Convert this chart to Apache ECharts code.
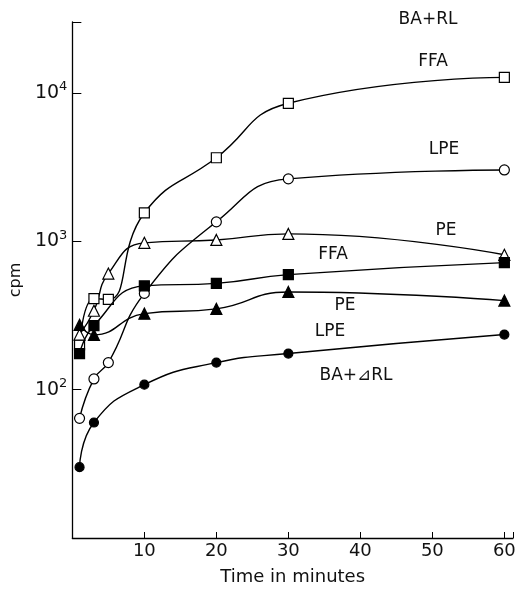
<!DOCTYPE html>
<html>
<head>
<meta charset="utf-8">
<script src="https://cdn.jsdelivr.net/npm/echarts@6/dist/echarts.min.js"></script>
<style>
  html, body { margin: 0; padding: 0; background: #fff; }
  #chart { width: 530px; height: 593px; }
</style>
</head>
<body>
<div id="chart"></div>
<script>
// time points (minutes)
const minutesOpen = [1, 3, 5, 10, 20, 30, 60]
const minutesFilled = [1, 3, 10, 20, 30, 60]
const xTicks = [10, 20, 30, 40, 50, 60]
const yTicks = [100, 1000, 10000]

// BA + RL (open symbols)
const ffaOpen = [200, 410, 405, 1550, 3650, 8500, 12700]
const lpeOpen = [64, 118, 152, 445, 1350, 2630, 3020]
const peOpen = [235, 340, 605, 975, 1020, 1120, 810]

// BA + ΔRL (filled symbols)
const ffaFilled = [175, 270, 500, 520, 595, 717]
const peFilled = [273, 234, 325, 350, 455, 398]
const lpeFilled = [30, 60, 108, 152, 175, 235]

const font = 'DejaVu Sans'

function makeSeries(xs, values, symbol, size, filled) {
  return {
    type: 'line',
    data: xs.map((m, i) => [m, values[i]]),
    smooth: 0.5,
    symbol: symbol,
    symbolSize: size,
    showAllSymbol: true,
    lineStyle: { color: '#000', width: 1.4 },
    itemStyle: {
      color: filled ? '#000' : '#fff',
      borderColor: '#000',
      borderWidth: 1.2,
      opacity: 1,
    },
    z: filled ? 3 : 2,
  }
}

// text labels drawn beside the curves (centre position)
function label(text, x, y) {
  return {
    type: 'text',
    x: x,
    y: y,
    style: {
      text: text,
      font: '17px "' + font + '"',
      fill: '#111',
      textAlign: 'center',
      textVerticalAlign: 'middle',
    },
  }
}

const chart = echarts.init(document.getElementById('chart'))
chart.setOption({
  backgroundColor: '#fff',
  animation: false,
  grid: { left: 71, right: 17, top: 22, bottom: 55 },
  xAxis: {
    type: 'value',
    min: 0,
    max: 61.2,
    interval: 10,
    name: 'Time in minutes',
    nameLocation: 'middle',
    nameGap: 30,
    nameTextStyle: { fontFamily: font, fontSize: 18, color: '#111' },
    axisLine: { lineStyle: { color: '#000', width: 1.3 } },
    axisTick: { inside: true, length: 6, lineStyle: { color: '#000' } },
    axisLabel: {
      fontFamily: font,
      fontSize: 18,
      color: '#111',
      margin: 4,
      formatter: (v) => (xTicks.indexOf(v) >= 0 ? String(v) : ''),
    },
    splitLine: { show: false },
  },
  yAxis: {
    type: 'log',
    logBase: 10,
    min: 10,
    max: 30000,
    name: 'cpm',
    nameLocation: 'middle',
    nameGap: 36,
    nameRotate: 90,
    nameTextStyle: { fontFamily: font, fontSize: 16, color: '#111' },
    axisLine: { show: true, lineStyle: { color: '#000', width: 1.3 } },
    axisTick: { inside: true, length: 9, lineStyle: { color: '#000' } },
    axisLabel: {
      margin: 5,
      formatter: (v) => {
        if (yTicks.indexOf(Math.round(v)) < 0) return ''
        return '{b|10}{s|' + Math.round(Math.log10(v)) + '}'
      },
      rich: {
        b: { fontFamily: font, fontSize: 19, color: '#111' },
        s: { fontFamily: font, fontSize: 13, color: '#111', verticalAlign: 'bottom', padding: [0, 0, 12, 0] },
      },
    },
    splitLine: { show: false },
  },
  graphic: [
    label('BA+RL', 428, 20),
    label('FFA', 433, 62),
    label('LPE', 444, 150),
    label('PE', 446, 231),
    label('FFA', 333, 255),
    label('PE', 345, 306),
    label('LPE', 330, 332),
    label('BA+⊿RL', 356, 376),
  ],
  series: [
    makeSeries(minutesOpen, ffaOpen, 'rect', 10, false),
    makeSeries(minutesOpen, lpeOpen, 'circle', 10, false),
    makeSeries(minutesOpen, peOpen, 'triangle', 11, false),
    makeSeries(minutesFilled, ffaFilled, 'rect', 10, true),
    makeSeries(minutesFilled, peFilled, 'triangle', 11, true),
    makeSeries(minutesFilled, lpeFilled, 'circle', 9, true),
  ],
})
</script>
</body>
</html>
